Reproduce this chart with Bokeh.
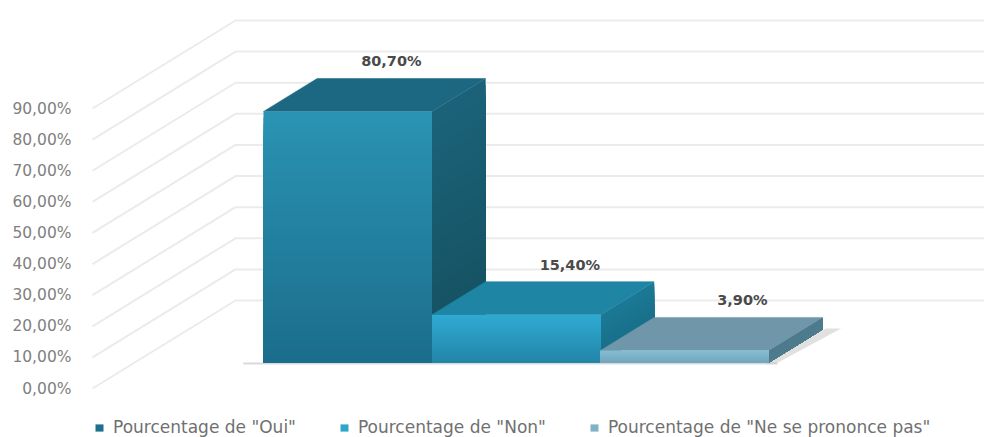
from bokeh.plotting import figure
from bokeh.embed import file_html
from bokeh.resources import INLINE
from bokeh.models import FixedTicker, Legend, LegendItem, ColumnDataSource
from bokeh.core.properties import value

categories = ['Pourcentage de "Oui"', 'Pourcentage de "Non"', 'Pourcentage de "Ne se prononce pas"']
percentages = [80.7, 15.4, 3.9]
value_labels = ["80,70%", "15,40%", "3,90%"]
tick_values = [0, 10, 20, 30, 40, 50, 60, 70, 80, 90]
tick_labels = ["0,00%", "10,00%", "20,00%", "30,00%", "40,00%", "50,00%", "60,00%", "70,00%", "80,00%", "90,00%"]

front_top = ["#2A93B3", "#2FAAD2", "#86BDD3"]
front_bottom = ["#1B6C8B", "#2385A8", "#72A6BD"]
top_face = ["#1C6882", "#1F85A4", "#6F97A9"]
side_top = ["#1B6279", "#1C7A96", "#4F7C8E"]
side_bottom = ["#14505F", "#176C86", "#4F7C8E"]
legend_colors = ["#1E6F8E", "#2EA5CC", "#7FB2C7"]
label_shift_px = [-10, 0, 4]

# Oblique projection (data units: one bar width on x, one percent on y)
PX_X, PX_Y = 168.5, 3.111
DEPTH_X, DEPTH_Y = 143 / PX_X, 88 / PX_Y
Z_FRONT, Z_BACK = 0.295, 0.67
BANDS = 40
NAN = float("nan")


def proj(x, y, z):
    return x + (z - Z_FRONT) * DEPTH_X, y + z * DEPTH_Y


def mix(a, b, t):
    ca = [int(a[i:i + 2], 16) for i in (1, 3, 5)]
    cb = [int(b[i:i + 2], 16) for i in (1, 3, 5)]
    return "#%02x%02x%02x" % tuple(round(p + (q - p) * t) for p, q in zip(ca, cb))


x_start = (80 - 263) / PX_X
x_end = (984 - 263) / PX_X
y_top = 388 / PX_Y
y_bottom = (388 - 437) / PX_Y

p = figure(width=984, height=437, output_backend="svg", toolbar_location=None,
           x_range=(x_start, x_end), y_range=(y_bottom, y_top),
           min_border_left=80, min_border_right=0, min_border_top=0, min_border_bottom=0,
           outline_line_color=None, background_fill_color="white")
p.xaxis.visible = False
p.xgrid.visible = False
p.ygrid.visible = False

ax = p.yaxis[0]
ax.ticker = FixedTicker(ticks=tick_values)
ax.major_label_overrides = dict(zip(tick_values, tick_labels))
ax.axis_line_color = None
ax.major_tick_line_color = None
ax.minor_tick_line_color = None
ax.major_label_standoff = 3
ax.major_label_text_font = "DejaVu Sans"
ax.major_label_text_font_size = "15.5px"
ax.major_label_text_color = "#808080"

# walls
for t in tick_values:
    x0, y0 = (92 - 263) / PX_X, t
    x1, y1 = x0 + DEPTH_X, t + DEPTH_Y
    p.line([x0, x1, x_end], [y0, y1, y1], line_color="#EBEBEB", line_width=2)

# soft floor shadow
sx0, sy0 = proj(3, 0, Z_FRONT)
sx1, sy1 = proj(3, 0, Z_BACK)
p.patch([sx0 - 0.02, sx0 + 0.04, sx1 + 0.11, sx1 + 0.02],
        [sy0 - 0.4, sy0 - 0.4, sy1 + 0.3, sy1 + 0.3], fill_color="#9A9A9A", fill_alpha=0.3, line_color=None)
p.line([proj(0, 0, Z_FRONT)[0] - 0.12, proj(3, 0, Z_FRONT)[0] + 0.05],
       [sy0 - 0.3, sy0 - 0.3], line_color="#B5B5B5", line_width=2, line_alpha=0.5)

legend_items = []
for i, (v, name) in enumerate(zip(percentages, categories)):
    fx0, base = proj(i, 0, Z_FRONT)
    fx1 = i + 1
    bx0, _ = proj(i, 0, Z_BACK)
    bx1, back_base = proj(i + 1, 0, Z_BACK)
    top_f = v + base
    top_b = v + back_base
    # top face
    p.patch([fx0, fx1, bx1, bx0], [top_f, top_f, top_b, top_b], fill_color=top_face[i], line_color=top_face[i], line_width=0.5)
    # side face, painted from the full shape down so bands never leave seams
    for k in range(BANDS):
        t = k / BANDS
        c = mix(side_top[i], side_bottom[i], t)
        p.patch([fx1, bx1, bx1, fx1],
                [base, back_base, top_b - v * t, top_f - v * t],
                fill_color=c, line_color=None)
    # front face
    for k in range(BANDS):
        t = k / BANDS
        c = mix(front_top[i], front_bottom[i], t)
        p.quad(left=fx0, right=fx1, bottom=base, top=top_f - v * t, fill_color=c, line_color=None)
    # legend swatch (no visible mark in the plot area)
    r = p.quad(left=[NAN], right=[NAN], bottom=[NAN], top=[NAN], fill_color=legend_colors[i], line_color=None)
    legend_items.append(LegendItem(label=name, renderers=[r]))

# value labels above each block
src = ColumnDataSource(dict(
    x=[proj(i + 0.5, v, Z_BACK)[0] for i, v in enumerate(percentages)],
    y=[proj(0, v, Z_BACK)[1] for v in percentages],
    t=value_labels, dx=label_shift_px,
))
p.text("x", "y", text="t", source=src, x_offset="dx", y_offset=-9, text_align="center", text_baseline="bottom",
       text_font=value("DejaVu Sans"), text_font_size="14.5px", text_font_style="bold", text_color="#4A4A4A")

legend = Legend(items=legend_items, orientation="horizontal", location=(14, 0),
                background_fill_alpha=0, border_line_color=None,
                glyph_width=10, glyph_height=9, label_width=10, spacing=43,
                label_standoff=9, padding=2, margin=0,
                label_text_font="DejaVu Sans", label_text_font_size="17px", label_text_color="#707070")
p.add_layout(legend, "center")

open("out.html", "w").write(file_html(p, INLINE))
